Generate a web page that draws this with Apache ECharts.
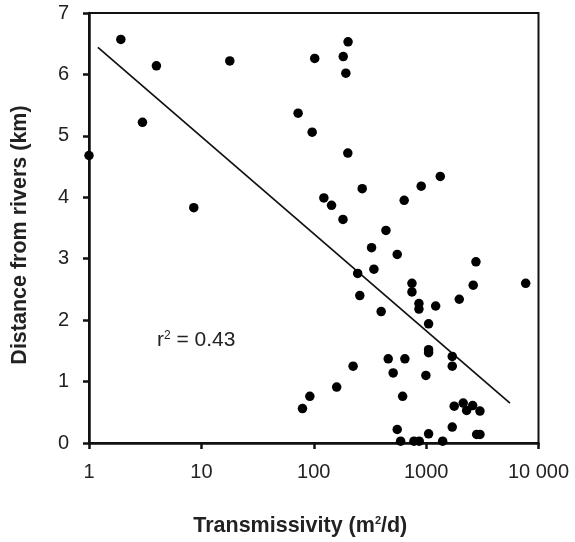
<!DOCTYPE html>
<html>
<head>
<meta charset="utf-8">
<script src="https://cdn.jsdelivr.net/npm/echarts@6/dist/echarts.min.js"></script>
<style>
html,body{margin:0;padding:0;background:#fff;}
#c{width:575px;height:542px;}
</style>
</head>
<body>
<div id="c"></div>
<script>
// Transmissivity (m2/d) and distance from rivers (km)
const transmissivity = [1.92, 3.98, 17.9, 2.99, 1.0, 8.56, 72.6, 202, 102, 183, 193, 96.8, 201, 1336, 904, 270, 638, 123, 144, 182, 439, 327, 553, 2775, 246, 343, 748, 748, 2625, 7690, 257, 863, 863, 1216, 1972, 398, 1052, 1052, 1052, 1708, 1708, 224, 460, 647, 509, 995, 160, 92.3, 79.4, 618, 1778, 2138, 2294, 2595, 3013, 553, 1708, 1052, 2818, 3013, 593, 779, 868, 1403];
const distance = [6.57, 6.14, 6.22, 5.22, 4.68, 3.83, 5.37, 6.53, 6.26, 6.29, 6.02, 5.06, 4.72, 4.34, 4.18, 4.14, 3.95, 3.99, 3.87, 3.64, 3.46, 3.18, 3.07, 2.95, 2.76, 2.83, 2.60, 2.46, 2.57, 2.60, 2.40, 2.27, 2.18, 2.23, 2.34, 2.14, 1.94, 1.52, 1.47, 1.41, 1.25, 1.25, 1.37, 1.37, 1.14, 1.10, 0.91, 0.76, 0.56, 0.76, 0.60, 0.65, 0.53, 0.61, 0.52, 0.22, 0.26, 0.15, 0.14, 0.14, 0.03, 0.03, 0.03, 0.03];
// Regression line end points
const fitX = [1.2, 5575];
const fitY = [6.44, 0.65];
const rSquared = "0.43";
const xTicks = {1: "1", 10: "10", 100: "100", 1000: "1000", 10000: "10 000"};

const points = transmissivity.map((t, i) => [t, distance[i]]);
const fitLine = fitX.map((x, i) => [x, fitY[i]]);

const font = "'Liberation Sans', Arial, sans-serif";
const chart = echarts.init(document.getElementById('c'), null, {renderer: 'canvas'});
chart.setOption({
  animation: false,
  backgroundColor: '#fff',
  grid: {left: 89, right: 36.5, top: 13, bottom: 99, show: true, borderColor: '#111', borderWidth: 2, backgroundColor: 'transparent'},
  xAxis: {
    type: 'log', logBase: 10, min: 1, max: 10000,
    axisLine: {show: true, lineStyle: {color: '#111', width: 2.5}},
    axisTick: {show: true, inside: false, length: 6, lineStyle: {color: '#111', width: 2.5}},
    minorTick: {show: false},
    splitLine: {show: false},
    axisLabel: {margin: 19, fontSize: 20, color: '#222', fontFamily: font,
      formatter: v => xTicks[Math.round(v)] || ''},
    name: '{a|Transmissivity (m}{s|2}{a|/d)}',
    nameLocation: 'middle', nameGap: 72,
    nameTextStyle: {padding: [0, 27, 0, 0], rich: {
      a: {fontSize: 21.5, fontWeight: 'bold', fontFamily: font, color: '#222'},
      s: {fontSize: 11, fontWeight: 'bold', fontFamily: font, color: '#222', verticalAlign: 'top', padding: [0, 0, 10, 0]}
    }}
  },
  yAxis: {
    type: 'value', min: 0, max: 7, interval: 1,
    axisLine: {show: true, lineStyle: {color: '#111', width: 2.5}},
    axisTick: {show: true, inside: false, length: 6, lineStyle: {color: '#111', width: 2.5}},
    splitLine: {show: false},
    axisLabel: {margin: 20, fontSize: 20, color: '#222', fontFamily: font},
    name: 'Distance from rivers (km)',
    nameLocation: 'middle', nameGap: 58, nameRotate: 90,
    nameTextStyle: {fontSize: 21.5, fontWeight: 'bold', fontFamily: font, color: '#222', padding: [0, 14, 0, 0]}
  },
  series: [
    {
      type: 'scatter', data: points, symbol: 'circle', symbolSize: 9.5,
      itemStyle: {color: '#000', opacity: 1}, clip: false, z: 3
    },
    {
      type: 'line', data: fitLine, showSymbol: false, symbol: 'none',
      lineStyle: {color: '#111', width: 1.7}, z: 2
    }
  ],
  graphic: [{
    type: 'text', left: 157, top: 330,
    style: {
      text: '{a|r}{s|2}{a| = ' + rSquared + '}',
      rich: {
        a: {fontSize: 21, fontFamily: font, fill: '#222'},
        s: {fontSize: 12, fontFamily: font, fill: '#222', verticalAlign: 'top', padding: [0, 0, 9, 0]}
      }
    }
  }]
});
</script>
</body>
</html>
